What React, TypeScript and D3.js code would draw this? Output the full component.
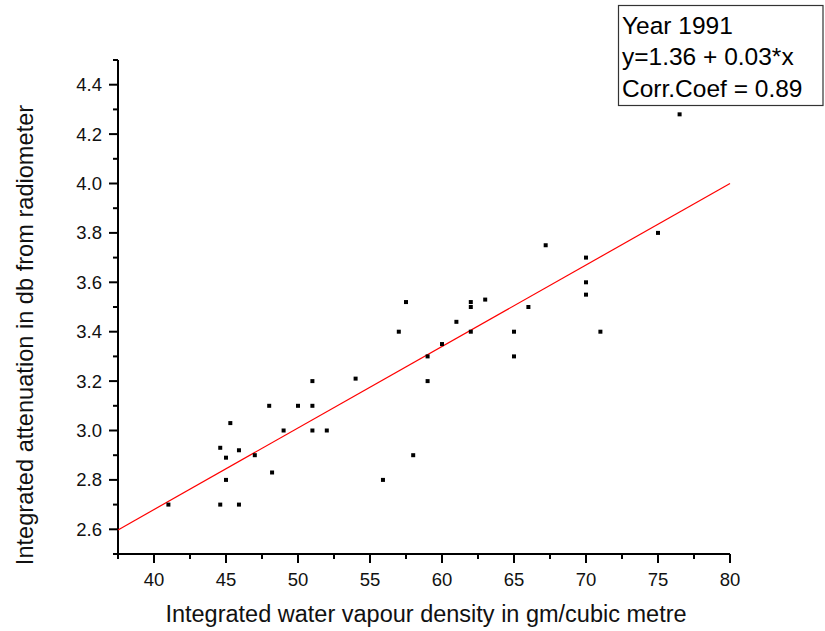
import * as d3 from "d3";
import { useEffect, useRef } from "react";

// water vapour density (gm/cubic metre)
const vapour = [
  41, 44.6, 44.6, 45, 45, 45.3, 45.9, 45.9, 47, 48, 48.2, 49, 50, 51, 51, 51, 52, 54,
  55.9, 57, 57.5, 58, 59, 59, 60, 61, 62, 62, 62, 63, 65, 65, 66, 67.2, 70, 70, 70, 71,
  75, 76.5,
];
// attenuation in db from radiometer
const attenuation = [
  2.7, 2.93, 2.7, 2.89, 2.8, 3.03, 2.92, 2.7, 2.9, 3.1, 2.83, 3.0, 3.1, 3.2, 3.1, 3.0, 3.0, 3.21,
  2.8, 3.4, 3.52, 2.9, 3.3, 3.2, 3.35, 3.44, 3.52, 3.5, 3.4, 3.53, 3.4, 3.3, 3.5, 3.75, 3.7, 3.6, 3.55, 3.4,
  3.8, 4.28,
];

const xTicks = [40, 45, 50, 55, 60, 65, 70, 75, 80];
const xMinor = [37.5, 42.5, 47.5, 52.5, 57.5, 62.5, 67.5, 72.5, 77.5];
const yTicks = [2.6, 2.8, 3.0, 3.2, 3.4, 3.6, 3.8, 4.0, 4.2, 4.4];
const yMinor = [2.5, 2.7, 2.9, 3.1, 3.3, 3.5, 3.7, 3.9, 4.1, 4.3, 4.5];

// fit line y = a + b*x
const fitIntercept = 1.36;
const fitSlope = 0.033;
const legendLines = ["Year 1991", "y=1.36 + 0.03*x", "Corr.Coef = 0.89"];

const width = 825;
const height = 631;
const font = "'Liberation Sans', Arial, sans-serif";

const ScatterChart = () => {
  const svgRef = useRef(null);

  useEffect(() => {
    const svg = d3.select(svgRef.current);
    svg.selectAll("*").remove();

    const x = d3.scaleLinear().domain([37.5, 80]).range([118, 730]);
    const y = d3.scaleLinear().domain([2.5, 4.5]).range([554, 60]);

    // axes
    const axisX = svg.append("g").attr("transform", `translate(0,${y(2.5)})`);
    axisX.append("line").attr("x1", x(37.5)).attr("x2", x(80))
      .attr("stroke", "#000").attr("stroke-width", 2);
    axisX.selectAll("line.major").data(xTicks).join("line").classed("major", true)
      .attr("x1", d => x(d)).attr("x2", d => x(d)).attr("y1", 0).attr("y2", 9)
      .attr("stroke", "#000").attr("stroke-width", 2);
    axisX.selectAll("line.minor").data(xMinor).join("line").classed("minor", true)
      .attr("x1", d => x(d)).attr("x2", d => x(d)).attr("y1", 0).attr("y2", 5)
      .attr("stroke", "#000").attr("stroke-width", 2);
    axisX.selectAll("text").data(xTicks).join("text")
      .attr("x", d => x(d)).attr("y", 32)
      .attr("text-anchor", "middle").attr("font-family", font).attr("font-size", 18.5)
      .attr("fill", "#111").text(d => d);

    const axisY = svg.append("g").attr("transform", `translate(${x(37.5)},0)`);
    axisY.append("line").attr("y1", y(2.5)).attr("y2", y(4.5))
      .attr("stroke", "#000").attr("stroke-width", 2);
    axisY.selectAll("line.major").data(yTicks).join("line").classed("major", true)
      .attr("y1", d => y(d)).attr("y2", d => y(d)).attr("x1", 0).attr("x2", -9)
      .attr("stroke", "#000").attr("stroke-width", 2);
    axisY.selectAll("line.minor").data(yMinor).join("line").classed("minor", true)
      .attr("y1", d => y(d)).attr("y2", d => y(d)).attr("x1", 0).attr("x2", -5)
      .attr("stroke", "#000").attr("stroke-width", 2);
    axisY.selectAll("text").data(yTicks).join("text")
      .attr("x", -16).attr("y", d => y(d) + 6.5)
      .attr("text-anchor", "end").attr("font-family", font).attr("font-size", 18.5)
      .attr("fill", "#111").text(d => d.toFixed(1));

    // regression line
    const line = d3.line().x(d => x(d)).y(d => y(fitIntercept + fitSlope * d));
    svg.append("path").datum([37.5, 80])
      .attr("fill", "none").attr("stroke", "#ff0000").attr("stroke-width", 1.2)
      .attr("d", line);

    // points
    svg.selectAll("rect.pt").data(vapour).join("rect").classed("pt", true)
      .attr("x", d => x(d) - 2).attr("y", (d, i) => y(attenuation[i]) - 2)
      .attr("width", 4).attr("height", 4).attr("fill", "#000");

    // axis titles
    svg.append("text")
      .attr("x", 426).attr("y", 622)
      .attr("text-anchor", "middle").attr("font-family", font).attr("font-size", 23.5)
      .attr("fill", "#111")
      .text("Integrated water vapour density in gm/cubic metre");

    svg.append("text")
      .attr("transform", "translate(33,335) rotate(-90)")
      .attr("text-anchor", "middle").attr("font-family", font).attr("font-size", 23.6)
      .attr("fill", "#111")
      .text("Integrated attenuation in db from radiometer");

    // legend box
    const legend = svg.append("g");
    legend.append("rect").attr("x", 618.5).attr("y", 5.5).attr("width", 204.5).attr("height", 100)
      .attr("fill", "#fff").attr("stroke", "#333").attr("stroke-width", 1.2);
    legend.selectAll("text").data(legendLines).join("text")
      .attr("x", 622).attr("y", (d, i) => 33.5 + i * 31.6)
      .attr("font-family", font).attr("font-size", 24.5).attr("fill", "#000")
      .text(d => d);
  }, []);

  return (
    <svg ref={svgRef} width={width} height={height}
      style={{ position: "absolute", left: 0, top: 0, background: "#fff" }} />
  );
};

export default function App() {
  return <ScatterChart />;
}
